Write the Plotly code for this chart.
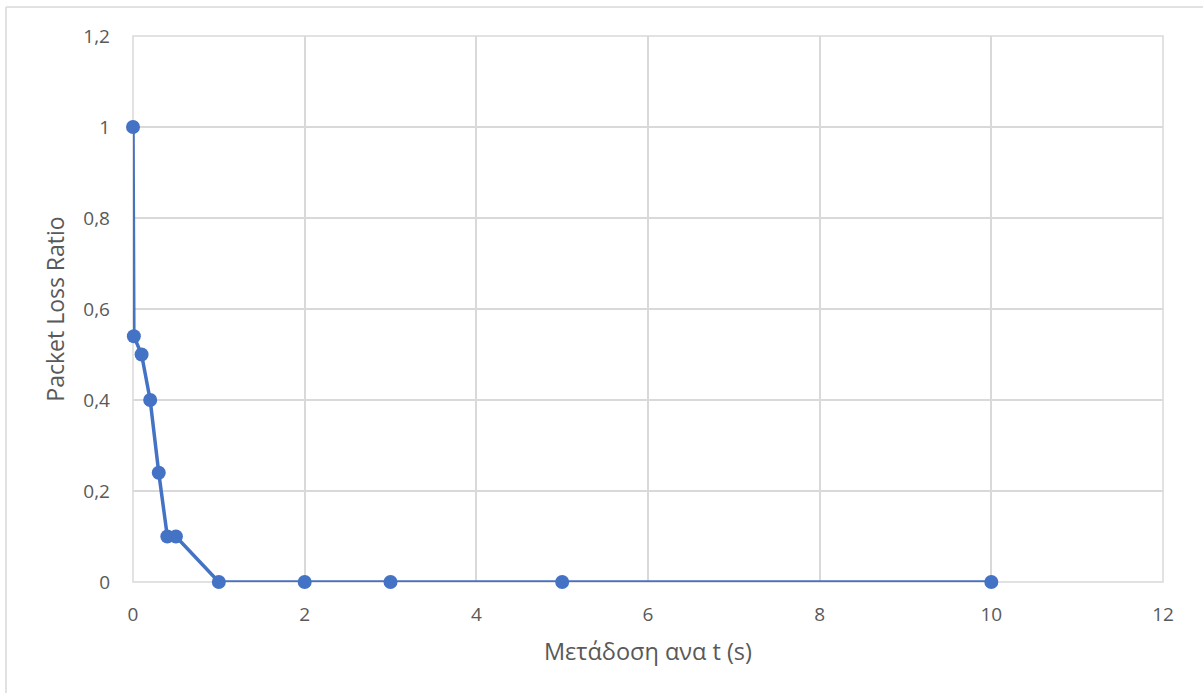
import plotly.graph_objects as go

x_vals = [0, 0.01, 0.1, 0.2, 0.3, 0.4, 0.5, 1, 2, 3, 5, 10]
y_vals = [1, 0.54, 0.5, 0.4, 0.24, 0.1, 0.1, 0, 0, 0, 0, 0]
x_title = "Μετάδοση ανα t (s)"
y_title = "Packet Loss Ratio"

W, H = 1203, 693
L, R, T, B = 133, 40, 36, 111
pw, ph = W - L - R, H - T - B

def px(x):
    return (x - L) / pw

def py(y):
    return (H - B - y) / ph

fig = go.Figure()
fig.add_trace(go.Scatter(
    x=x_vals, y=y_vals, mode="lines+markers",
    line=dict(color="#4472C4", width=3.5),
    marker=dict(color="#4472C4", size=14),
    cliponaxis=False,
    showlegend=False,
))

font_family = "Open Sans, Liberation Sans, sans-serif"
fig.update_layout(
    width=W, height=H,
    margin=dict(l=L, r=R, t=T, b=B),
    paper_bgcolor="white", plot_bgcolor="white",
    separators=",.",
    font=dict(family=font_family, color="#595959", size=19),
    xaxis=dict(
        range=[0, 12], dtick=2, tick0=0,
        showgrid=True, gridcolor="#d9d9d9", gridwidth=1.5,
        zeroline=False, showline=False, ticks="",
        tickfont=dict(size=19, color="#595959"),
        ticklabelstandoff=19,
        title=dict(text=x_title, font=dict(size=23.5, color="#595959"), standoff=17),
    ),
    yaxis=dict(
        range=[0, 1.2], dtick=0.2, tick0=0,
        showgrid=True, gridcolor="#d9d9d9", gridwidth=1.5,
        zeroline=False, showline=False, ticks="",
        tickfont=dict(size=19, color="#595959"),
        ticklabelstandoff=22,
        title=dict(text=y_title, font=dict(size=23, color="#595959"), standoff=12),
    ),
    shapes=[
        dict(type="rect", xref="paper", yref="paper", x0=0, x1=1, y0=0, y1=1,
             line=dict(color="#d9d9d9", width=1.5), layer="below"),
        dict(type="line", xref="paper", yref="paper", x0=px(6), x1=px(W), y0=py(7), y1=py(7),
             line=dict(color="#d9d9d9", width=1.5)),
        dict(type="line", xref="paper", yref="paper", x0=px(6), x1=px(6), y0=py(7), y1=py(H),
             line=dict(color="#d9d9d9", width=1.5)),
    ],
)

fig.write_html(
    "out.html",
    config={"displayModeBar": False},
    post_script="document.body.style.margin='0px';document.body.style.overflow='hidden';",
)
